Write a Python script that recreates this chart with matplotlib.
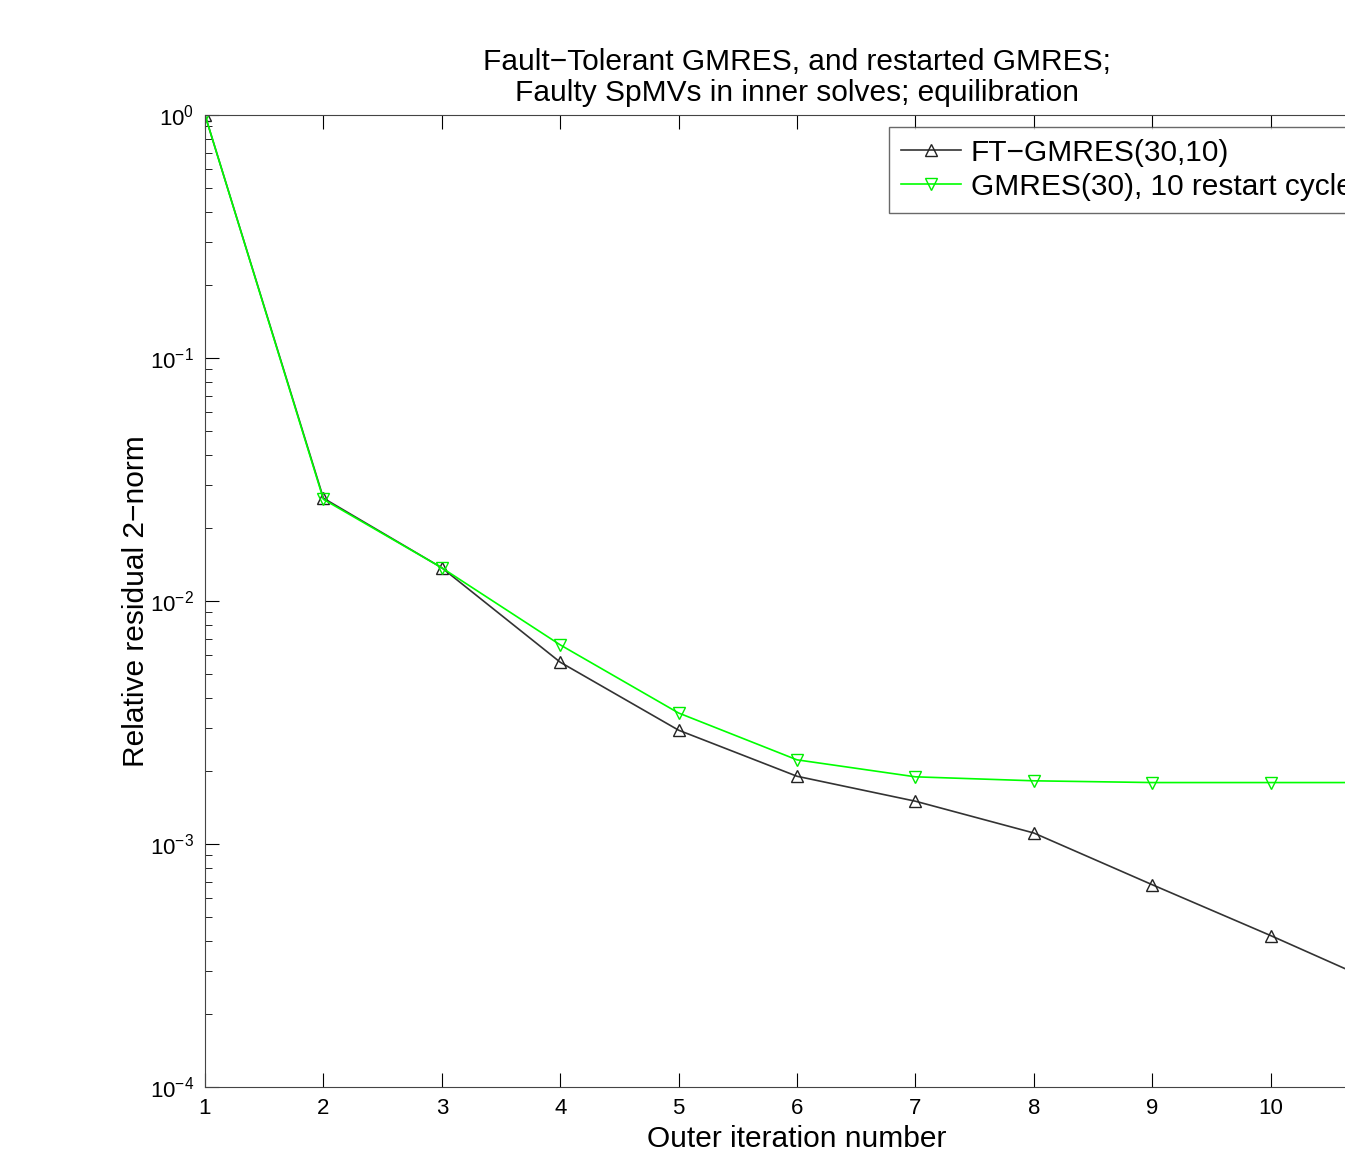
import numpy as np
import matplotlib.pyplot as plt

plt.rcParams['font.family'] = ['Liberation Sans', 'DejaVu Sans']

# outer iterations
iters = [1, 2, 3, 4, 5, 6, 7, 8, 9, 10, 11]
# FT-GMRES(30,10)
ft_gmres = [1.0, 0.0265, 0.0137, 0.0056, 0.00294, 0.0019, 0.0015, 0.00111, 0.00068, 0.00042, 0.000255]
# GMRES(30), 10 restart cycles
gmres = [1.0, 0.0262, 0.0137, 0.0066, 0.00346, 0.00222, 0.00189, 0.00182, 0.00179, 0.00179, 0.00179]

fig = plt.figure(figsize=(13.45, 11.53), dpi=100)
ax = fig.add_axes([205/1345, 66/1153, 1184/1345, 972/1153])

ax.semilogy(iters, ft_gmres, color='#333333', lw=1.2, marker='^', ms=9,
            mfc='none', mec='#222222', label='FT\u2212GMRES(30,10)')
ax.semilogy(iters, gmres, color='#00ff00', lw=1.2, marker='v', ms=9,
            mfc='none', mec='#00ee00', label='GMRES(30), 10 restart cycles')

ax.set_xlim(1, 11)
ax.set_ylim(1e-4, 1)
ax.set_xticks(iters)
ax.set_yticks([1e-4, 1e-3, 1e-2, 1e-1, 1])
ax.tick_params(which='both', direction='in', top=True, right=True, labelsize=16)
ax.tick_params(which='major', length=10)
ax.tick_params(which='minor', length=5)
ax.tick_params(axis='x', pad=8)
ax.tick_params(axis='y', pad=8)
for s in ax.spines.values():
    s.set_color('#444444')

ax.set_xlabel('Outer iteration number', fontsize=21.5, labelpad=4)
ax.set_ylabel('Relative residual 2\u2212norm', fontsize=21.5, labelpad=0)
ax.set_title('Fault\u2212Tolerant GMRES, and restarted GMRES;\nFaulty SpMVs in inner solves; equilibration',
             fontsize=21.5, pad=10, linespacing=1.15)

leg = ax.legend(loc='upper left', bbox_to_anchor=(889/1345, 1 - 127/1153),
                bbox_transform=fig.transFigure, fontsize=21.5, fancybox=False,
                borderaxespad=0, handlelength=2.0, handletextpad=0.33,
                borderpad=0.4, labelspacing=0.2)
leg.get_frame().set_edgecolor('#444444')
leg.get_frame().set_linewidth(1.0)

fig.savefig('out.png', dpi=100)
